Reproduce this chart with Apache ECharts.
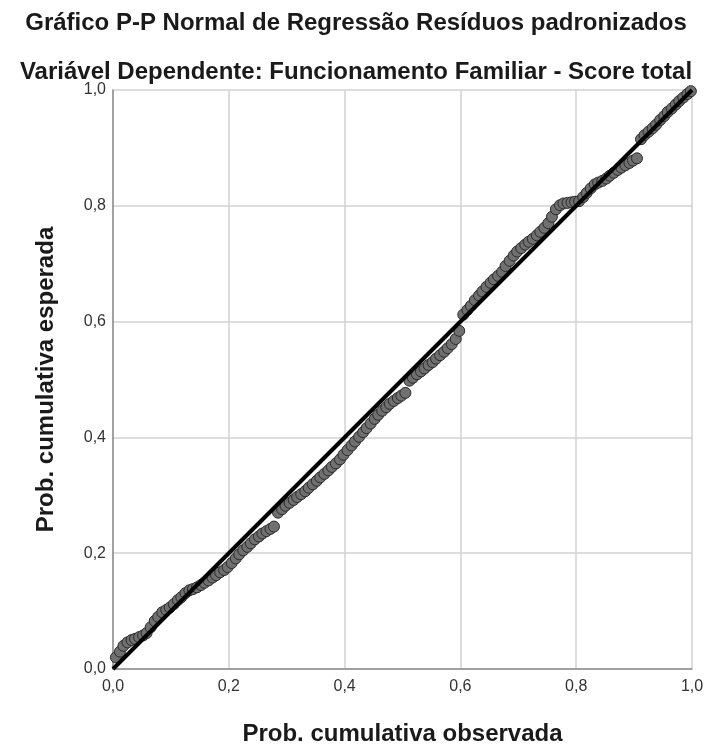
<!DOCTYPE html>
<html>
<head>
<meta charset="utf-8">
<script src="https://cdn.jsdelivr.net/npm/echarts@6/dist/echarts.min.js"></script>
<style>
html,body{margin:0;padding:0;background:#fff;}
#chart{width:712px;height:744px;}
</style>
</head>
<body>
<div id="chart"></div>
<script>
const titleText = 'Gráfico P-P Normal de Regressão Resíduos padronizados';
const subtitleText = 'Variável Dependente: Funcionamento Familiar - Score total';
const xAxisName = 'Prob. cumulativa observada';
const yAxisName = 'Prob. cumulativa esperada';
const tickLabels = ['0,0','0,2','0,4','0,6','0,8','1,0'];
const refLine = [[0,0],[1,1]];

const observed = [
0.005,0.012,0.018,0.025,0.032,0.038,0.045,0.052,0.058,0.065,
0.072,0.078,0.085,0.092,0.098,0.105,0.112,0.118,0.125,0.132,
0.138,0.145,0.152,0.158,0.165,0.172,0.178,0.185,0.192,0.198,
0.205,0.212,0.218,0.225,0.232,0.238,0.245,0.252,0.258,0.265,
0.272,0.278,0.285,0.292,0.298,0.305,0.312,0.318,0.325,0.332,
0.338,0.345,0.352,0.358,0.365,0.372,0.378,0.385,0.392,0.398,
0.405,0.412,0.418,0.425,0.432,0.438,0.445,0.452,0.458,0.465,
0.472,0.478,0.485,0.492,0.498,0.505,0.512,0.518,0.525,0.532,
0.538,0.545,0.552,0.558,0.565,0.572,0.578,0.585,0.592,0.598,
0.605,0.612,0.618,0.625,0.632,0.638,0.645,0.652,0.658,0.665,
0.672,0.678,0.685,0.692,0.698,0.705,0.712,0.718,0.725,0.732,
0.738,0.745,0.752,0.758,0.765,0.772,0.778,0.785,0.792,0.798,
0.805,0.812,0.818,0.825,0.832,0.838,0.845,0.852,0.858,0.865,
0.872,0.878,0.885,0.892,0.898,0.905,0.912,0.918,0.925,0.932,
0.938,0.945,0.952,0.958,0.965,0.972,0.978,0.985,0.992,0.998
];
const expected = [
0.020,0.030,0.040,0.046,0.050,0.052,0.055,0.058,0.062,0.072,
0.083,0.090,0.098,0.102,0.106,0.112,0.119,0.124,0.131,0.136,
0.138,0.141,0.145,0.149,0.153,0.158,0.162,0.167,0.171,0.176,
0.183,0.191,0.198,0.205,0.211,0.217,0.224,0.229,0.234,0.238,
0.242,0.246,0.270,0.276,0.282,0.287,0.292,0.297,0.302,0.307,
0.313,0.319,0.325,0.331,0.337,0.343,0.349,0.355,0.362,0.370,
0.378,0.386,0.393,0.401,0.409,0.416,0.424,0.432,0.439,0.446,
0.452,0.458,0.463,0.468,0.472,0.477,0.498,0.503,0.509,0.514,
0.519,0.525,0.530,0.536,0.542,0.548,0.554,0.561,0.570,0.584,
0.612,0.620,0.627,0.637,0.645,0.652,0.660,0.667,0.673,0.679,
0.686,0.696,0.705,0.714,0.721,0.727,0.733,0.738,0.743,0.749,
0.755,0.762,0.770,0.781,0.794,0.801,0.804,0.805,0.806,0.807,
0.808,0.815,0.822,0.830,0.837,0.840,0.843,0.847,0.852,0.857,
0.862,0.866,0.870,0.874,0.878,0.882,0.915,0.922,0.928,0.934,
0.940,0.948,0.955,0.962,0.968,0.975,0.981,0.987,0.993,0.998
];

const points = observed.map((x, i) => [x, expected[i]]);
const fmt = v => tickLabels[Math.round(v * 5)] || '';
const font = 'Arial, "Liberation Sans", Helvetica, sans-serif';

const chart = echarts.init(document.getElementById('chart'));
chart.setOption({
  animation: false,
  backgroundColor: '#ffffff',
  title: [
    {text: titleText, left: 'center', top: 6,
     textStyle: {fontFamily: font, fontSize: 24, fontWeight: 'bold', color: '#1a1a1a'}},
    {text: subtitleText, left: 'center', top: 55,
     textStyle: {fontFamily: font, fontSize: 24, fontWeight: 'bold', color: '#1a1a1a'}}
  ],
  grid: {left: 113, top: 90, width: 579, height: 579, containLabel: false, outerBoundsMode: 'none'},
  xAxis: {
    type: 'value', min: 0, max: 1, interval: 0.2,
    name: xAxisName, nameLocation: 'middle', nameGap: 53,
    nameTextStyle: {fontFamily: font, fontSize: 24, fontWeight: 'bold', color: '#1a1a1a'},
    axisLine: {show: true, onZero: false, lineStyle: {color: '#8c8c8c', width: 1.5}},
    axisTick: {show: false},
    axisLabel: {formatter: fmt, fontFamily: font, fontSize: 16, color: '#333', margin: 10},
    splitLine: {show: true, lineStyle: {color: '#d2d2d2', width: 1.5}}
  },
  yAxis: {
    type: 'value', min: 0, max: 1, interval: 0.2,
    name: yAxisName, nameLocation: 'middle', nameGap: 55, nameRotate: 90,
    nameTextStyle: {fontFamily: font, fontSize: 24, fontWeight: 'bold', color: '#1a1a1a'},
    axisLine: {show: true, onZero: false, lineStyle: {color: '#8c8c8c', width: 1.5}},
    axisTick: {show: false},
    axisLabel: {formatter: fmt, fontFamily: font, fontSize: 16, color: '#333', margin: 7,
                verticalAlignMinLabel: 'middle', verticalAlignMaxLabel: 'middle'},
    splitLine: {show: true, lineStyle: {color: '#d2d2d2', width: 1.5}}
  },
  series: [
    {
      type: 'scatter', data: points, symbol: 'circle', symbolSize: 11, z: 2,
      itemStyle: {color: '#707070', borderColor: '#2a2a2a', borderWidth: 1, opacity: 1}
    },
    {
      type: 'line', data: refLine, showSymbol: false, symbol: 'none', z: 3,
      lineStyle: {color: '#000000', width: 4}, silent: true
    }
  ]
});
</script>
</body>
</html>
